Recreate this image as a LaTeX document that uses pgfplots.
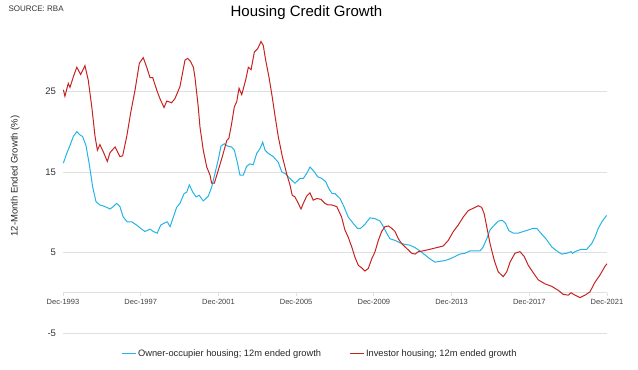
\documentclass[border=0pt]{standalone}
\usepackage{fontspec}
\setmainfont{Liberation Sans}
\usepackage{pgfplots}
\pgfplotsset{compat=1.18}
\definecolor{ownblue}{RGB}{35,180,228}
\definecolor{invred}{RGB}{198,35,32}
\definecolor{gridgray}{RGB}{224,224,224}
\begin{document}
\begin{tikzpicture}
\useasboundingbox (0,0) rectangle (638bp,370bp);
\node[anchor=west, font=\fontsize{8bp}{9bp}\selectfont, text=black!80] at (5bp,361bp) {SOURCE: RBA};
\node[anchor=center, font=\fontsize{15bp}{17bp}\selectfont] at (306.5bp,357bp) {Housing Credit Growth};
\begin{axis}[
  at={(63bp,37bp)}, anchor=south west,
  scale only axis, width=544bp, height=306bp,
  xmin=0, xmax=28, ymin=-5, ymax=33,
  axis x line=middle, axis y line=left,
  x axis line style={-, draw=gridgray, line width=0.8bp},
  y axis line style={draw=none},
  hide obscured x ticks=false,
  xtick={0,4,8,12,16,20,24,28},
  xticklabels={Dec-1993,Dec-1997,Dec-2001,Dec-2005,Dec-2009,Dec-2013,Dec-2017,Dec-2021},
  ytick={-5,5,15,25},
  yticklabels={-5,5,15,25},
  ymajorgrids, grid style={draw=gridgray, line width=0.7bp},
  tick align=outside, major tick length=3.5bp,
  xtick style={draw=gridgray, line width=0.8bp},
  ytick style={draw=none},
  xticklabel style={font=\fontsize{7.5bp}{9bp}\selectfont, text=black!75},
  yticklabel style={font=\fontsize{9.5bp}{11bp}\selectfont, text=black!80},
  ylabel={12-Month Ended Growth (\%)},
  ylabel style={at={(axis description cs:-0.088,0.513)}, anchor=center, font=\fontsize{9.5bp}{11bp}\selectfont, text=black!85},
  legend columns=2,
  legend style={draw=none, fill=none, at={(axis description cs:0.472,-0.0686)}, anchor=center,
    font=\fontsize{9.3bp}{11bp}\selectfont, text=black!85,
    /tikz/every even column/.append style={column sep=26bp},
    /tikz/every odd column/.append style={column sep=0bp}},
  legend image code/.code={\draw[#1] (0bp,0bp) -- (14bp,0bp);},
  legend cell align=left,
  clip=false,
]
\addplot[color=ownblue, line width=1bp] coordinates {
(0.02,16.1)(0.19,17.3)(0.36,18.3)(0.53,19.4)(0.71,20.0)(0.87,19.6)(1.01,19.4)(1.18,18.3)(1.35,16.0)(1.53,13.1)
(1.70,11.3)(1.90,10.9)(2.16,10.7)(2.42,10.4)(2.59,10.7)(2.76,11.1)(2.93,10.7)(3.10,9.4)(3.31,8.8)(3.54,8.8)
(3.79,8.4)(4.05,7.9)(4.22,7.6)(4.48,7.9)(4.65,7.6)(4.85,7.4)(5.03,8.4)(5.25,8.7)(5.37,8.8)(5.51,8.2)
(5.68,9.4)(5.85,10.6)(6.02,11.1)(6.23,12.3)(6.37,12.5)(6.50,13.4)(6.68,12.5)(6.85,11.9)(7.01,12.1)(7.22,11.4)
(7.48,12.0)(7.65,13.1)(7.82,14.8)(7.99,16.5)(8.13,18.2)(8.30,18.5)(8.48,18.2)(8.68,18.1)(8.82,17.7)(8.99,16.0)
(9.11,14.6)(9.28,14.6)(9.45,15.7)(9.62,16.0)(9.79,15.9)(9.97,17.3)(10.14,17.9)(10.28,18.7)(10.40,17.7)(10.57,17.3)
(10.82,16.9)(11.08,16.2)(11.26,15.0)(11.43,14.8)(11.68,14.2)(11.94,13.6)(12.20,14.2)(12.37,14.2)(12.54,14.8)(12.71,15.6)
(12.88,15.2)(13.11,14.4)(13.31,14.2)(13.52,13.8)(13.69,12.9)(13.86,12.3)(14.00,12.3)(14.26,11.7)(14.46,10.7)(14.68,9.4)
(14.94,8.6)(15.15,8.0)(15.32,8.0)(15.54,8.5)(15.80,9.3)(16.06,9.2)(16.32,8.9)(16.49,8.2)(16.66,7.4)(16.83,6.7)
(17.09,6.5)(17.34,6.2)(17.60,6.0)(17.86,5.9)(18.12,5.6)(18.37,5.2)(18.63,4.7)(18.89,4.2)(19.15,3.8)(19.40,3.9)
(19.66,4.0)(19.92,4.2)(20.17,4.5)(20.43,4.8)(20.69,4.9)(20.95,5.2)(21.21,5.2)(21.47,5.2)(21.63,5.7)(21.81,6.7)
(21.98,7.8)(22.20,8.4)(22.40,8.9)(22.61,9.0)(22.78,8.6)(22.95,7.7)(23.18,7.4)(23.43,7.4)(23.69,7.6)(23.95,7.8)
(24.20,8.0)(24.38,8.0)(24.60,7.4)(24.89,6.6)(25.15,5.7)(25.41,5.2)(25.67,4.8)(25.92,4.9)(26.15,5.1)(26.22,4.9)
(26.44,5.2)(26.70,5.4)(26.96,5.4)(27.21,6.1)(27.38,6.9)(27.55,8.0)(27.76,8.9)(27.98,9.6)
};
\addlegendentry{Owner-occupier housing; 12m ended growth}
\addplot[color=invred, line width=1bp] coordinates {
(0.02,25.2)(0.10,24.4)(0.27,26.0)(0.36,25.5)(0.53,26.8)(0.71,28.0)(0.91,27.1)(1.13,28.2)(1.30,26.4)(1.48,23.1)
(1.65,19.4)(1.77,17.7)(1.90,18.4)(2.11,17.3)(2.28,16.3)(2.42,17.4)(2.68,18.1)(2.93,16.9)(3.07,17.0)(3.28,19.4)
(3.48,22.3)(3.71,25.2)(3.93,28.5)(4.13,29.2)(4.31,28.0)(4.48,26.7)(4.62,26.7)(4.82,25.2)(4.99,24.1)(5.20,23.0)
(5.34,23.8)(5.59,23.6)(5.76,24.1)(6.02,25.6)(6.28,28.9)(6.42,29.1)(6.57,28.7)(6.71,28.0)(6.79,26.8)(6.96,23.1)
(7.05,20.6)(7.22,17.7)(7.40,15.6)(7.57,14.6)(7.65,13.6)(7.79,13.6)(7.99,15.2)(8.20,16.9)(8.43,18.9)(8.54,19.2)
(8.68,21.0)(8.82,23.1)(8.94,23.7)(9.06,25.4)(9.20,24.6)(9.40,26.4)(9.54,28.0)(9.68,27.7)(9.85,29.9)(10.02,30.3)
(10.19,31.2)(10.31,30.7)(10.43,28.9)(10.60,26.8)(10.77,24.3)(10.91,22.0)(11.08,19.4)(11.29,16.9)(11.51,14.8)(11.68,13.4)
(11.80,12.1)(11.94,11.9)(12.11,11.1)(12.25,10.4)(12.37,11.1)(12.54,12.0)(12.71,12.4)(12.88,11.5)(13.06,11.7)(13.28,11.6)
(13.48,11.1)(13.65,10.9)(13.83,10.9)(14.09,10.7)(14.34,9.4)(14.51,7.8)(14.68,6.9)(14.86,5.7)(15.03,4.4)(15.20,3.4)
(15.37,3.1)(15.54,2.7)(15.71,3.0)(15.89,4.2)(16.06,5.1)(16.23,6.5)(16.40,7.6)(16.57,8.2)(16.74,8.3)(16.92,8.0)
(17.09,7.6)(17.26,6.7)(17.43,6.1)(17.69,5.5)(17.95,4.9)(18.12,4.8)(18.29,5.1)(18.54,5.2)(18.89,5.4)(19.23,5.6)
(19.57,5.8)(19.83,6.5)(20.09,7.6)(20.34,8.4)(20.60,9.4)(20.86,10.2)(21.12,10.5)(21.37,10.8)(21.55,10.6)(21.68,9.8)
(21.81,8.2)(21.98,6.1)(22.20,4.0)(22.40,2.6)(22.66,2.0)(22.84,2.6)(23.01,3.8)(23.26,4.9)(23.52,5.1)(23.74,4.5)
(23.95,3.4)(24.20,2.5)(24.46,1.6)(24.81,1.1)(25.15,0.8)(25.49,0.3)(25.75,-0.2)(26.01,-0.3)(26.15,0.0)(26.35,-0.3)
(26.61,-0.6)(26.87,-0.3)(27.12,0.1)(27.38,1.3)(27.64,2.2)(27.90,3.3)(28.0,3.6)
};
\addlegendentry{Investor housing; 12m ended growth}
\end{axis}
\end{tikzpicture}
\end{document}
